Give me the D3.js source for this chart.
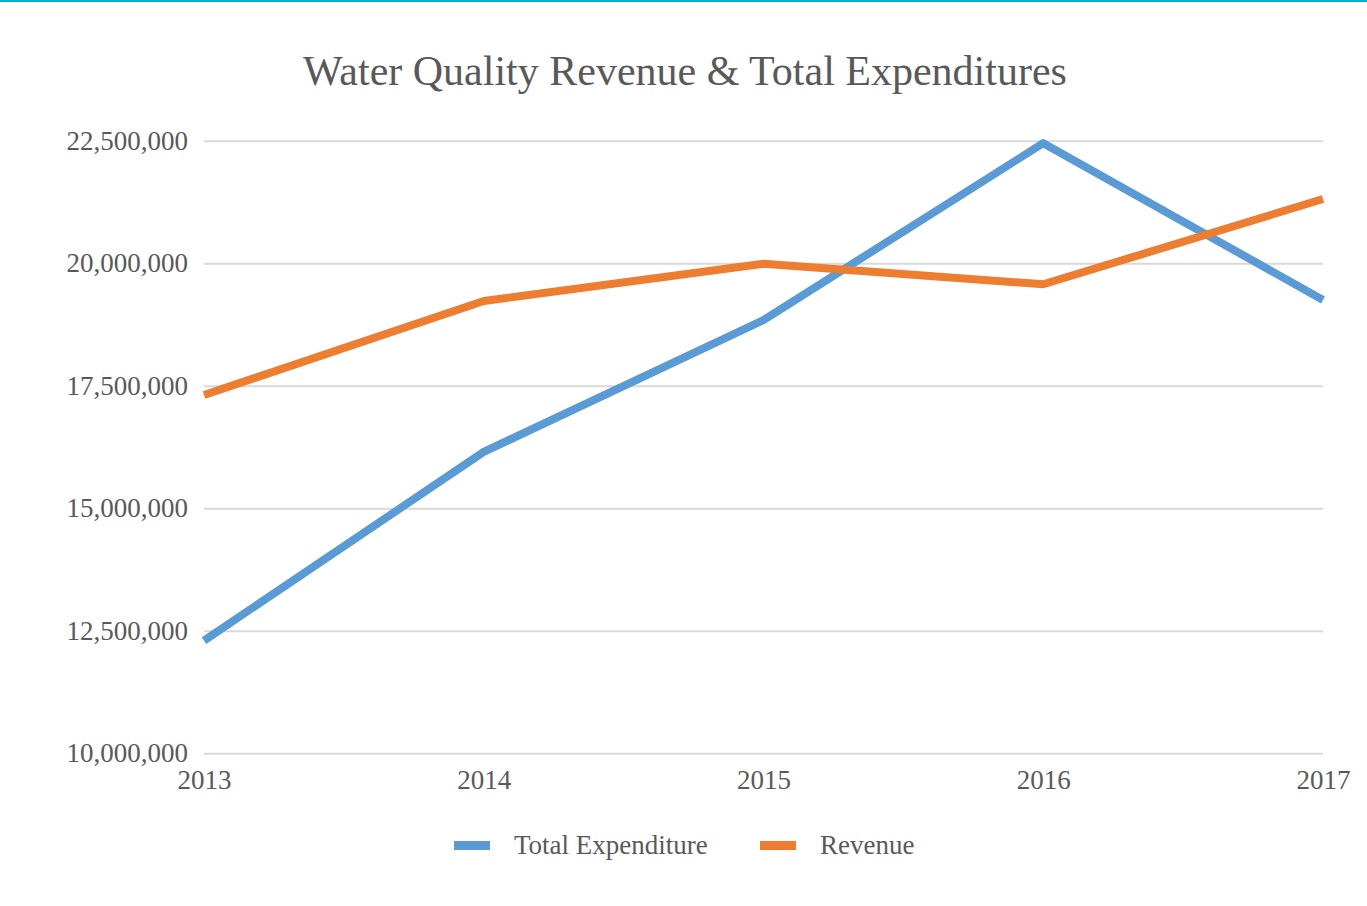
<!DOCTYPE html>
<html>
<head>
<meta charset="utf-8">
<script src="https://cdn.jsdelivr.net/npm/d3@7"></script>
<style>
  body { margin: 0; background: #fff; }
  svg text { font-family: "Liberation Serif", "Times New Roman", serif; fill: #595959; }
</style>
</head>
<body>
<div id="canvas"></div>
<script>
const years = [2013, 2014, 2015, 2016, 2017];
const totalExpenditure = [12300000, 16150000, 18840000, 22450000, 19250000];
const revenue = [17310000, 19230000, 19990000, 19570000, 21310000];
const yTicks = [10000000, 12500000, 15000000, 17500000, 20000000, 22500000];
const seriesNames = ["Total Expenditure", "Revenue"];
const seriesColors = ["#5b9bd5", "#ed7d31"];

let width = 1367;
let height = 906;

let svg = d3.select("#canvas")
  .append("svg")
  .attr("width", width)
  .attr("height", height);

// top border line
svg.append("rect")
  .attr("x", 0).attr("y", 0)
  .attr("width", width).attr("height", 2)
  .attr("fill", "#00b0c8");

let x = d3.scalePoint()
  .domain(years)
  .range([204, 1323]);
let y = d3.scaleLinear()
  .domain([10000000, 22500000])
  .range([753.3, 140.7]);

svg.append("text")
  .attr("x", 685)
  .attr("y", 85)
  .attr("text-anchor", "middle")
  .attr("font-size", 42)
  .text("Water Quality Revenue & Total Expenditures");

// gridlines + y labels
let yAxis = d3.axisLeft(y)
  .tickValues(yTicks)
  .tickSize(-(1323 - 204))
  .tickPadding(16)
  .tickFormat(d3.format(","));
let gy = svg.append("g")
  .attr("transform", "translate(204,0)")
  .call(yAxis);
gy.select(".domain").remove();
gy.selectAll(".tick line").attr("stroke", "#d9d9d9").attr("stroke-width", 2);
gy.selectAll(".tick text").attr("font-size", 27);

// x labels
let xAxis = d3.axisBottom(x).tickSize(0).tickPadding(17);
let gx = svg.append("g")
  .attr("transform", "translate(0,753.3)")
  .call(xAxis);
gx.select(".domain").remove();
gx.selectAll(".tick text").attr("font-size", 27);

let line = d3.line()
  .x((d, i) => x(years[i]))
  .y(d => y(d));

[totalExpenditure, revenue].forEach((s, i) => {
  svg.append("path")
    .attr("d", line(s))
    .attr("fill", "none")
    .attr("stroke", seriesColors[i])
    .attr("stroke-width", 8)
    .attr("stroke-linejoin", "round");
});

// legend
let legendX = [454, 760];
seriesNames.forEach((name, i) => {
  svg.append("rect")
    .attr("x", legendX[i]).attr("y", 841)
    .attr("width", 36).attr("height", 9)
    .attr("fill", seriesColors[i]);
  svg.append("text")
    .attr("x", legendX[i] + 60)
    .attr("y", 854)
    .attr("font-size", 27)
    .text(name);
});
</script>
</body>
</html>
